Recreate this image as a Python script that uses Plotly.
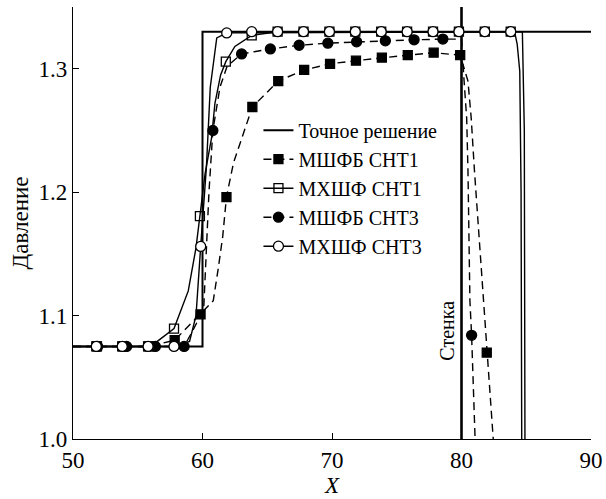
import plotly.graph_objects as go

# ---------------- data ----------------
names = ["Точное решение", "МШФБ СНТ1", "МХШФ СНТ1", "МШФБ СНТ3", "МХШФ СНТ3"]

# exact solution
exact_x = [50, 60, 60, 90]
exact_y = [1.075, 1.075, 1.33, 1.33]

# wall
wall_x = [80, 80]
wall_y = [1.0, 1.35]
wall_label = "Стенка"

# МШФБ СНТ1 (filled squares, dashed)
m1_x = [51.85, 53.85, 55.85, 57.85, 59.85, 61.85, 63.85, 65.85, 67.85, 69.85,
        71.85, 73.85, 75.85, 77.85, 79.9, 81.95]
m1_y = [1.075, 1.075, 1.075, 1.080, 1.101, 1.196, 1.269, 1.290, 1.299, 1.304,
        1.3065, 1.309, 1.311, 1.313, 1.311, 1.070]
m1_line_x = [50, 55.85, 57.85, 59.85, 60.83, 61.2, 61.56, 61.85, 62.4, 63.85, 65.85,
             67.85, 69.85, 71.85, 73.85, 75.85, 77.85, 79.9, 80.5, 80.75, 81.0,
             81.7, 81.95, 82.45]
m1_line_y = [1.075, 1.075, 1.080, 1.101, 1.112, 1.137, 1.164, 1.196, 1.224, 1.269, 1.290,
             1.299, 1.304, 1.3065, 1.309, 1.311, 1.313, 1.311, 1.29, 1.26, 1.2175,
             1.112, 1.070, 1.0]

# МХШФ СНТ1 (open squares, solid)
h1_x = [51.8, 53.8, 55.8, 57.8, 59.8, 61.8, 63.8, 65.8, 67.8, 69.8, 71.8, 73.8,
        75.8, 77.8, 79.8, 81.8, 83.8]
h1_y = [1.075, 1.075, 1.075, 1.0895, 1.1806, 1.3057, 1.327, 1.33, 1.33, 1.33,
        1.33, 1.33, 1.33, 1.33, 1.33, 1.33, 1.33]
h1_line_x = [50, 56.0, 57.8, 58.9, 59.5, 59.8, 60.2, 60.7, 60.96, 61.4, 61.8, 62.5,
             63.8, 65.8, 83.8, 84.1, 84.3, 84.5, 84.6, 84.65]
h1_line_y = [1.075, 1.075, 1.0895, 1.12, 1.155, 1.1806, 1.215, 1.244, 1.272, 1.295,
             1.3057, 1.318, 1.327, 1.33, 1.33, 1.33, 1.32, 1.298, 1.2, 1.0]

# МШФБ СНТ3 (filled circles, dashed)
m3_x = [51.9, 54.14, 56.36, 58.58, 60.8, 63.02, 65.24, 67.46, 69.68, 71.9,
        74.12, 76.34, 78.56, 80.78]
m3_y = [1.075, 1.075, 1.075, 1.075, 1.25, 1.312, 1.316, 1.319, 1.3207, 1.3218,
        1.3226, 1.3234, 1.324, 1.084]
m3_line_x = [50, 58.58, 59.1, 59.6, 60.1, 60.25, 60.5, 60.8, 61.35, 61.9, 63.02,
             65.24, 67.46, 69.68, 71.9, 74.12, 76.34, 78.56, 80.0, 80.2, 80.4,
             80.5, 80.65, 80.78, 81.05]
m3_line_y = [1.075, 1.075, 1.085, 1.095, 1.107, 1.145, 1.2, 1.25, 1.285, 1.302, 1.312,
             1.316, 1.319, 1.3207, 1.3218, 1.3226, 1.3234, 1.324, 1.324, 1.29, 1.26,
             1.2175, 1.112, 1.084, 1.0]

# МХШФ СНТ3 (open circles, solid)
h3_x = [51.8, 53.8, 55.8, 57.8, 59.86, 61.87, 63.8, 65.8, 67.8, 69.8, 71.8, 73.8,
        75.8, 77.8, 79.8, 81.8, 83.8]
h3_y = [1.075, 1.075, 1.075, 1.075, 1.156, 1.329, 1.33, 1.33, 1.33, 1.33, 1.33,
        1.33, 1.33, 1.33, 1.33, 1.33, 1.33]
h3_line_x = [50, 57.8, 59.0, 59.5, 59.86, 60.3, 60.6, 61.1, 61.87, 84.7, 84.85, 84.9]
h3_line_y = [1.075, 1.075, 1.079, 1.10, 1.156, 1.22, 1.285, 1.325, 1.329, 1.33, 1.25, 1.0]

x_ticks = [50, 60, 70, 80, 90]
y_ticks = [1.0, 1.1, 1.2, 1.3]
y_tick_text = ["1.0", "1.1", "1.2", "1.3"]

# ---------------- figure ----------------
FONT = "Times New Roman, Liberation Serif, DejaVu Serif, serif"
DASH = "8px,5px"
fig = go.Figure()

def curve(x, y, dash=None, width=1.4):
    fig.add_trace(go.Scatter(x=x, y=y, mode="lines", showlegend=False,
                             hoverinfo="skip",
                             line=dict(color="black", width=width, dash=dash)))

def marks(x, y, symbol, size):
    fig.add_trace(go.Scatter(x=x, y=y, mode="markers", showlegend=False,
                             marker=dict(symbol=symbol, size=size, color="black",
                                         line=dict(color="black", width=1.3))))

def legend_item(name, mode, symbol=None, dash=None, width=1.4, size=9):
    fig.add_trace(go.Scatter(x=[None], y=[None], mode=mode, name=name,
                             line=dict(color="black", width=width, dash=dash),
                             marker=dict(symbol=symbol, size=size, color="black",
                                         line=dict(color="black", width=1.3))))

# exact
curve(exact_x, exact_y, width=2)
# wall
curve(wall_x, wall_y, width=2.6)

curve(m1_line_x, m1_line_y, dash=DASH)
curve(h1_line_x, h1_line_y)
curve(m3_line_x, m3_line_y, dash=DASH)
curve(h3_line_x, h3_line_y)

marks(m1_x, m1_y, "square", 9)
marks(h1_x, h1_y, "square-open", 9)
marks(m3_x, m3_y, "circle", 10)
fig.add_trace(go.Scatter(x=h3_x, y=h3_y, mode="markers", showlegend=False,
                         marker=dict(symbol="circle", size=10, color="white",
                                     line=dict(color="black", width=1.3))))

legend_item(names[0], "lines", width=2)
legend_item(names[1], "lines+markers", "square", DASH, size=9)
legend_item(names[2], "lines+markers", "square-open", size=9)
legend_item(names[3], "lines+markers", "circle", DASH, size=10)
fig.add_trace(go.Scatter(x=[None], y=[None], mode="lines+markers", name=names[4],
                         line=dict(color="black", width=1.4),
                         marker=dict(symbol="circle", size=10, color="white",
                                     line=dict(color="black", width=1.3))))

fig.add_annotation(x=78.9, y=1.088, text=wall_label, textangle=-90,
                   showarrow=False, font=dict(family=FONT, size=20, color="black"))

fig.update_layout(
    width=606, height=499,
    margin=dict(l=73, r=15, t=7, b=60, autoexpand=False),
    paper_bgcolor="white", plot_bgcolor="white",
    font=dict(family=FONT, size=21, color="black"),
    showlegend=True,
    legend=dict(x=0.358, y=0.76, xanchor="left", yanchor="top",
                bgcolor="rgba(0,0,0,0)", borderwidth=0,
                font=dict(family=FONT, size=20, color="black"),
                tracegroupgap=0, itemwidth=30),
    xaxis=dict(range=[50, 90], tickvals=x_ticks, ticks="inside", ticklen=6,
               tickwidth=1.2, tickcolor="black", showline=True, linecolor="black",
               linewidth=1.3, showgrid=False, zeroline=False, automargin=False,
               title=dict(text="<i>X</i>", standoff=2,
                          font=dict(family=FONT, size=23)),
               tickfont=dict(family=FONT, size=23)),
    yaxis=dict(range=[1.0, 1.35], tickvals=y_ticks, ticktext=y_tick_text,
               ticks="inside", ticklen=6, tickwidth=1.2, tickcolor="black",
               showline=True, linecolor="black", linewidth=1.3, showgrid=False,
               zeroline=False, automargin=False,
               title=dict(text="Давление", standoff=3,
                          font=dict(family=FONT, size=23)),
               tickfont=dict(family=FONT, size=23)),
)

fig.write_html("out.html", config={"displayModeBar": False},
               post_script="document.body.style.margin='0';document.body.style.padding='0';")
